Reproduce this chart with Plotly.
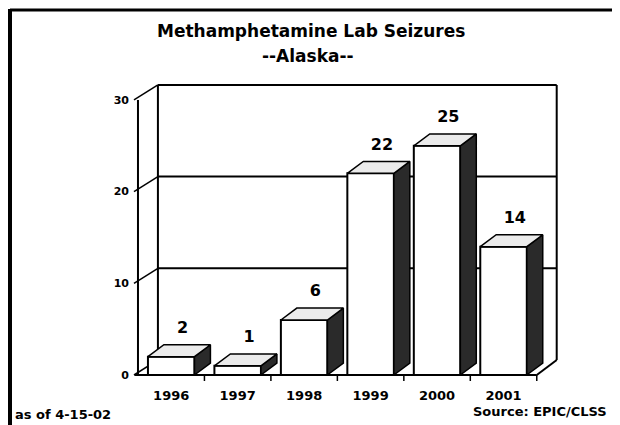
import plotly.graph_objects as go

# ---- data ----
years = ["1996", "1997", "1998", "1999", "2000", "2001"]
seizures = [2, 1, 6, 22, 25, 14]
y_ticks = [0, 10, 20, 30]
title_line1 = "Methamphetamine Lab Seizures"
title_line2 = "--Alaska--"
note_left = "as of 4-15-02"
note_right = "Source: EPIC/CLSS"

FONT = "DejaVu Sans"
pos = list(range(len(years)))

# 3D geometry (in axis units)
half_w = 0.35          # half width of bar front
bdx, bdy = 0.24, 1.3   # bar depth
wdx, wdy = 0.30, 1.64  # back wall offset
x_left, x_right = -0.5, 5.5
y_top = y_ticks[-1]

fig = go.Figure()

# front faces
fig.add_trace(go.Bar(
    x=pos, y=seizures, width=2 * half_w,
    marker=dict(color="white", line=dict(color="black", width=2)),
    hoverinfo="skip", showlegend=False,
))

# side faces and top faces
sx, sy, tx, ty = [], [], [], []
for i, v in zip(pos, seizures):
    r = i + half_w
    sx += [r, r, r + bdx, r + bdx, r, None]
    sy += [0, v, v + bdy, bdy, 0, None]
    l = i - half_w
    tx += [l, r, r + bdx, l + bdx, l, None]
    ty += [v, v, v + bdy, v + bdy, v, None]

fig.add_trace(go.Scatter(
    x=sx, y=sy, mode="lines", fill="toself", fillcolor="#2a2a2a",
    line=dict(color="black", width=1.5), hoverinfo="skip", showlegend=False,
))
fig.add_trace(go.Scatter(
    x=tx, y=ty, mode="lines", fill="toself", fillcolor="#ebebeb",
    line=dict(color="black", width=1.5), hoverinfo="skip", showlegend=False,
))

# value labels
fig.add_trace(go.Scatter(
    x=[i + 0.17 for i in pos], y=[v + 3.0 for v in seizures],
    mode="text", text=[str(v) for v in seizures], textposition="middle center",
    textfont=dict(family=FONT, size=16, color="black", weight="bold"),
    hoverinfo="skip", showlegend=False, cliponaxis=False,
))

shapes = []
line_k = dict(color="black", width=2)
# back wall
wl, wr = x_left + wdx, x_right + wdx
shapes.append(dict(type="line", xref="x", yref="y", x0=wl, x1=wl, y0=wdy, y1=y_top + wdy, line=line_k, layer="below"))
shapes.append(dict(type="line", xref="x", yref="y", x0=wr, x1=wr, y0=wdy, y1=y_top + wdy, line=line_k, layer="below"))
shapes.append(dict(type="line", xref="x", yref="y", x0=wr, x1=x_right, y0=wdy, y1=0, line=line_k, layer="below"))
for t in y_ticks[1:]:
    shapes.append(dict(type="line", xref="x", yref="y", x0=wl, x1=wr, y0=t + wdy, y1=t + wdy, line=line_k, layer="below"))
for t in y_ticks:
    shapes.append(dict(type="line", xref="x", yref="y", x0=x_left - 0.06, x1=wl, y0=t, y1=t + wdy, line=dict(color="black", width=1.5), layer="below"))
# front axes
shapes.append(dict(type="line", xref="x", yref="y", x0=x_left, x1=x_left, y0=0, y1=y_top, line=line_k))
shapes.append(dict(type="line", xref="x", yref="y", x0=x_left - 0.05, x1=x_right, y0=0, y1=0, line=line_k))
for i in pos:
    shapes.append(dict(type="line", xref="x", yref="y", ysizemode="pixel", yanchor=0,
                       x0=i + 0.5, x1=i + 0.5, y0=0, y1=-6, line=dict(color="black", width=1.5)))

# outer frame (paper coords; plot area is 130..570 x 72..386 px of the page,
# the figure itself starts at the page's 8px body margin)
def px(xp):
    return (xp - 130) / 440

def py(yp):
    return (386 - yp) / 314

shapes.append(dict(type="line", xref="paper", yref="paper", x0=px(10), x1=px(10), y0=py(9), y1=py(425), line=dict(color="black", width=4)))
shapes.append(dict(type="line", xref="paper", yref="paper", x0=px(10), x1=px(620), y0=py(10), y1=py(10), line=dict(color="black", width=3)))
shapes.append(dict(type="line", xref="paper", yref="paper", x0=px(617), x1=px(617), y0=py(398), y1=py(423), line=dict(color="black", width=2)))

annotations = [
    dict(text=title_line1, xref="paper", yref="paper", x=px(311), y=py(31), showarrow=False,
         xanchor="center", yanchor="middle", font=dict(family=FONT, size=17, color="black", weight="bold")),
    dict(text=title_line2, xref="paper", yref="paper", x=px(308), y=py(56), showarrow=False,
         xanchor="center", yanchor="middle", font=dict(family=FONT, size=17, color="black", weight="bold")),
    dict(text=note_left, xref="paper", yref="paper", x=px(13), y=py(414), showarrow=False,
         xanchor="left", yanchor="middle", font=dict(family=FONT, size=13, color="black", weight="bold")),
    dict(text=note_right, xref="paper", yref="paper", x=px(609), y=py(411), showarrow=False,
         xanchor="right", yanchor="middle", font=dict(family=FONT, size=13, color="black", weight="bold")),
]

fig.update_layout(
    width=612, height=417,
    margin=dict(l=122, r=50, t=64, b=39),
    paper_bgcolor="white", plot_bgcolor="white",
    shapes=shapes, annotations=annotations,
    bargap=0.3,
    xaxis=dict(range=[-0.62, 6.0], tickvals=pos, ticktext=years, showgrid=False,
               zeroline=False, showline=False, ticks="",
               tickfont=dict(family=FONT, size=13, color="black", weight="bold")),
    yaxis=dict(range=[-1.2, 33.05], tickvals=y_ticks, showgrid=False, zeroline=False,
               showline=False, ticks="",
               tickfont=dict(family=FONT, size=11, color="black", weight="bold")),
)

fig.write_html("out.html")
